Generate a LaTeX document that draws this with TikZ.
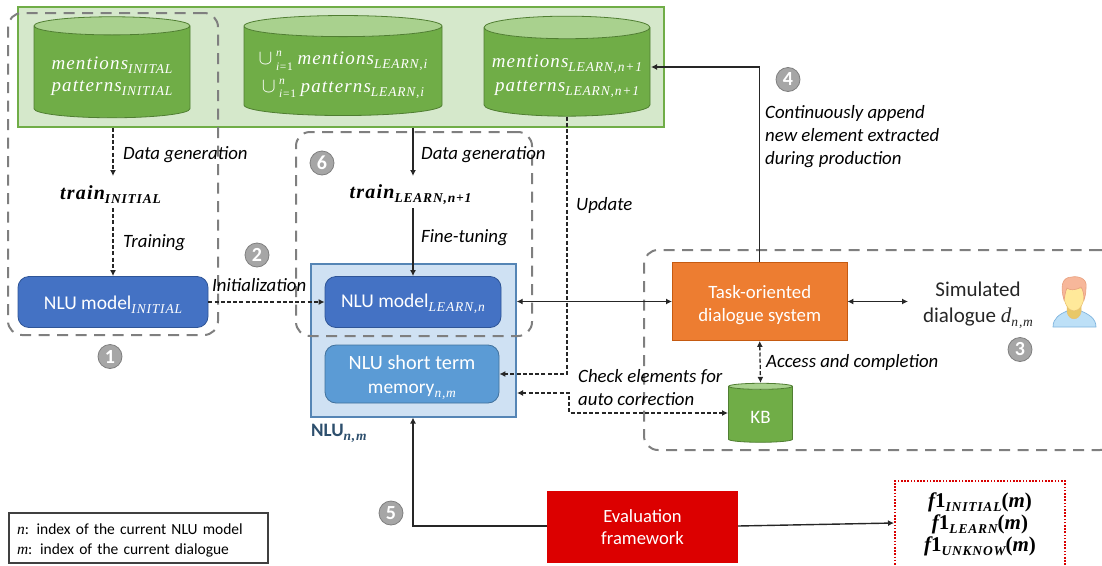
\documentclass[tikz,border=0pt]{standalone}
\usepackage{fontspec}
\setmainfont{Carlito}
\newfontfamily\mathf{Liberation Serif}[LetterSpace=6]
\usetikzlibrary{shapes.geometric,arrows.meta,calc}
\newcommand{\fs}[1]{\fontsize{#1}{#1}\selectfont}
\newcommand{\mi}[1]{{\mathf\itshape #1}}
\newcommand{\mb}[1]{{\mathf\bfseries\itshape #1}}
\newcommand{\dn}[1]{\raisebox{-4pt}{\fs{13.5}\mathf\itshape #1}}
\newcommand{\dnb}[1]{\raisebox{-4pt}{\fs{13.5}\mathf\bfseries\itshape #1}}
\newcommand{\unionof}{{\fs{21}$\cup$}\makebox[25pt][l]{\rlap{\raisebox{8pt}{\fs{11.5}\mathf\itshape\ n}}\raisebox{-5.5pt}{\fs{11.5}\mathf\ \textit{i}=1}}}
\definecolor{greenpanel}{HTML}{D5E8CB}
\definecolor{greenedge}{HTML}{70AD47}
\definecolor{cylbody}{HTML}{70AD47}
\definecolor{cyltop}{HTML}{A9D18E}
\definecolor{cyledge}{HTML}{507E32}
\definecolor{blue1}{HTML}{4472C4}
\definecolor{blue1e}{HTML}{2F5597}
\definecolor{blue2}{HTML}{5B9BD5}
\definecolor{blue2e}{HTML}{41719C}
\definecolor{panelblue}{HTML}{CFE1F3}
\definecolor{paneledge}{HTML}{5585B5}
\definecolor{orangebox}{HTML}{ED7D31}
\definecolor{orangee}{HTML}{C55A11}
\definecolor{redbox}{HTML}{DC0000}
\definecolor{dashgray}{HTML}{7F7F7F}
\definecolor{inkdark}{HTML}{262626}
\definecolor{numgray}{HTML}{A6A6A6}
\definecolor{hair}{HTML}{F7B79A}
\definecolor{hairedge}{HTML}{E8A07E}
\definecolor{face}{HTML}{FFE99A}
\definecolor{faceedge}{HTML}{E8C070}
\definecolor{neck}{HTML}{E8C868}
\definecolor{shirt}{HTML}{BDE0F7}
\definecolor{shirtedge}{HTML}{7FB4DE}
\tikzset{
  x=1pt,y=-1pt,
  cyl/.style={cylinder,shape border rotate=90,cylinder uses custom fill,cylinder body fill=cylbody,
    cylinder end fill=cyltop,draw=cyledge,line width=0.8pt,text=white,inner sep=0pt,align=center,
    minimum width=#1},
  region/.style={draw=dashgray,line width=2pt,dash pattern=on 11pt off 7.5pt,rounded corners=14pt,inner sep=0pt},
  roundbox/.style={rounded corners=11pt,inner sep=0pt,text=white,align=center,line width=0.8pt},
  square/.style={inner sep=0pt,align=center},
  label/.style={inner sep=0pt,anchor=west,font=\fs{18.8}\itshape,text=black,align=left},
  num/.style={circle,fill=numgray,draw=dashgray,line width=0.8pt,text=white,minimum size=24pt,inner sep=0pt,font=\fs{20}\bfseries},
  solidarrow/.style={draw=inkdark,line width=1.4pt,-{Latex[length=6pt,width=6pt]}},
  dasharrow/.style={draw=inkdark,line width=1.3pt,dash pattern=on 4pt off 2.2pt,-{Latex[length=6pt,width=6pt]}},
  bisolid/.style={draw=inkdark,line width=1.4pt,{Latex[length=6pt,width=6pt]}-{Latex[length=6pt,width=6pt]}},
  bidash/.style={draw=inkdark,line width=1.3pt,dash pattern=on 4pt off 2.2pt,{Latex[length=6pt,width=6pt]}-{Latex[length=6pt,width=6pt]}},
}
\begin{document}
\begin{tikzpicture}
\useasboundingbox (0,0) rectangle (1102,565);
\clip (0,0) rectangle (1102,565);
% top store panel
\node[square,draw=greenedge,fill=greenpanel,line width=1.5pt,minimum width=646pt,minimum height=120pt] (store) at (341,67) {};
\node[cyl=156pt,minimum height=101pt,aspect=0.15] (cylA) at (112,72) {\fs{19}\rule{0pt}{21pt}\mi{mentions}\dn{INITAL}\\[7pt]\fs{19}\mi{patterns}\dn{INITIAL}};
\node[cyl=198pt,minimum height=100pt,aspect=0.125] (cylB) at (343,71) {\fs{19}\rule{0pt}{21pt}\unionof\mi{mentions}\dn{LEARN,i}\\[7pt]\fs{19}\unionof\mi{patterns}\dn{LEARN,i}};
\node[cyl=166pt,minimum height=100pt,aspect=0.15] (cylC) at (567,72) {\fs{19}\rule{0pt}{21pt}\mi{mentions}\dn{LEARN,n+1}\\[7pt]\fs{19}\mi{patterns}\dn{LEARN,n+1}};
% NLU group
\node[square,draw=paneledge,fill=panelblue,line width=1.3pt,minimum width=205pt,minimum height=153pt] (nlu) at (413.5,340.5) {};
\node[roundbox,draw=blue1e,fill=blue1,minimum width=190pt,minimum height=51pt,font=\fs{19.5}] (modelinit) at (113,302) {\rule{0pt}{18pt}NLU model\dn{INITIAL}};
\node[roundbox,draw=blue1e,fill=blue1,minimum width=176pt,minimum height=51pt,font=\fs{19.5}] (modellearn) at (413,302) {\rule{0pt}{18pt}NLU model\dn{LEARN,n}};
\node[roundbox,draw=blue2e,fill=blue2,minimum width=174pt,minimum height=58pt,font=\fs{20.3}] (memory) at (412,374) {\rule{0pt}{21pt}NLU short term\\[3pt]\fs{19.4}memory\dn{n,m}};
% system
\node[square,draw=orangee,fill=orangebox,text=white,line width=0.8pt,minimum width=174.6pt,minimum height=78pt,font=\fs{18.8}] (task) at (759.7,301.5) {\rule{0pt}{20pt}Task-oriented\\[4pt]dialogue system};
\node[cyl=64pt,minimum height=59pt,aspect=0.3,font=\fs{19}] (kb) at (760.5,414.5) {\rule{0pt}{18pt}KB};
\node[inner sep=0pt,align=center,font=\fs{21},text=black!85] (sim) at (978,305) {Simulated\\[5pt]dialogue \mi{d}\dn{n,m}};
\node[square,draw=none,fill=redbox,text=white,minimum width=191pt,minimum height=72pt,font=\fs{18.6}] (eval) at (642.5,527) {Evaluation\\[4pt]framework};
\node[square,draw=red!85!black,line width=1.6pt,dash pattern=on 1.6pt off 1.6pt,minimum width=170pt,minimum height=90pt] (scores) at (980,526) {};
\node[inner sep=0pt,align=center] (scorestext) at (980,524.5) {\fs{21}\mb{f}{\mathf\bfseries 1}\dnb{INITIAL}{\mathf\bfseries(}\mb{m}{\mathf\bfseries)}\\[2pt]\fs{21}\mb{f}{\mathf\bfseries 1}\dnb{LEARN}{\mathf\bfseries(}\mb{m}{\mathf\bfseries)}\\[2pt]\fs{21}\mb{f}{\mathf\bfseries 1}\dnb{UNKNOW}{\mathf\bfseries(}\mb{m}{\mathf\bfseries)}};
\node[square,draw=black!75,line width=1.2pt,minimum width=259pt,minimum height=50pt,text width=243pt,align=left,font=\fs{15.5}] (legend) at (138.5,538) {\rule{0pt}{15.5pt}\mi{n}: index of the current NLU model\\[4.5pt]\mi{m}: index of the current dialogue};
% training nodes
\node[inner sep=0pt,font=\fs{20}] (trainA) at (110.5,195) {\mb{train}\dnb{INITIAL}};
\node[inner sep=0pt,font=\fs{20}] (trainB) at (410.5,195) {\mb{train}\dnb{LEARN,n+1}};
% dashed regions
\node[region,minimum width=210pt,minimum height=322pt] (regA) at (113,174) {};
\node[region,minimum width=236pt,minimum height=204pt] (regB) at (414,234) {};
\node[region,minimum width=470pt,minimum height=200pt] (regC) at (879,350) {};
% connector helper points
\coordinate (updcorner) at (cylC.south |- memory.east);
\coordinate (chkA) at (569,393);
\coordinate (chkB) at (569,413);
\coordinate (appcorner) at (task.north |- 0,67);
\coordinate (cylCr) at (651,67);
\coordinate (evalcorner) at (413,526);
\coordinate (nlub) at (413,417.5);
\coordinate (nluchk) at (517,393);
\coordinate (nluright) at (nlu.east |- task.west);
\coordinate (evalL) at (547,526);
\coordinate (evalR) at (738,526);
\coordinate (scoreL) at (894,523);
\coordinate (kbleft) at (728,413);
\coordinate (simL) at (908,301.5);
\coordinate (trainAin) at (113,176);
\coordinate (trainAout) at (113,208);
\coordinate (trainBin) at (413,176);
\coordinate (trainBout) at (413,208);
% connectors
\draw[dasharrow] (store.south -| trainAin) -- (trainAin);
\draw[dasharrow] (trainAout) -- (trainAout |- modelinit.north);
\draw[solidarrow] (store.south -| trainBin) -- (trainBin);
\draw[solidarrow] (trainBout) -- (trainBout |- modellearn.north);
\draw[dasharrow] (modelinit.east) -- (modellearn.west);
\draw[dasharrow] (cylC.south) -- (updcorner) -- (memory.east);
\draw[bidash] (nluchk) -- (chkA) -- (chkB) -- (kbleft);
\draw[bisolid] (nluright) -- (task.west);
\draw[solidarrow] (task.north) -- (appcorner) -- (cylCr);
\draw[bisolid] (task.east) -- (simL);
\draw[bidash] (task.south) -- (kb.north);
\draw[solidarrow] (evalL) -- (evalcorner) -- (nlub);
\draw[solidarrow] (evalR) -- (scoreL);
% labels
\node[label] (l1) at (123,154.5) {Data generation};
\node[label] (l2) at (421,155) {Data generation};
\node[label] (l3) at (123,243) {Training};
\node[label] (l4) at (421,238) {Fine-tuning};
\node[label] (l5) at (212,285.5) {Initialization};
\node[label] (l6) at (576,205) {Update};
\node[label] (l7) at (765,137) {Continuously append\\[4.2pt]new element extracted\\[4.2pt]during production};
\node[label] (l8) at (766,362) {Access and completion};
\node[label] (l9) at (578,388) {Check elements for\\[4.2pt]auto correction};
\node[inner sep=0pt,anchor=west,font=\fs{19},text=blue2e!70!black] (nlutitle) at (311,433) {\textbf{NLU}\dnb{n,m}};
% numbered badges
\node[num] (n1) at (110,356.5) {1};
\node[num] (n2) at (257,255) {2};
\node[num] (n3) at (1020,349.5) {3};
\node[num] (n4) at (788,79.5) {4};
\node[num] (n5) at (391,513) {5};
\node[num] (n6) at (322,163) {6};
% person icon
\path[fill=shirt,draw=shirtedge,line width=0.7pt] (1053,327) .. controls (1053,318) and (1060,314) .. (1067,311) -- (1081,311) .. controls (1088,314) and (1096,318) .. (1096,327) -- cycle;
\path[fill=neck,draw=faceedge,line width=0.5pt] (1067,304) -- (1067,312) .. controls (1069,321) and (1079,321) .. (1081,312) -- (1081,304) -- cycle;
\path[fill=face,draw=faceedge,line width=0.5pt] (1063,288) .. controls (1063,303) and (1068,311) .. (1074,311) .. controls (1080,311) and (1085,303) .. (1085,288) -- cycle;
\path[fill=hair,draw=hairedge,line width=0.6pt] (1064,300) .. controls (1060,286) and (1062,277) .. (1072,277) .. controls (1076,276) and (1088,277) .. (1086,288) .. controls (1086,293) and (1085,297) .. (1084,300) .. controls (1084,294) and (1083,290) .. (1081,287) .. controls (1075,291) and (1069,290) .. (1067,288) .. controls (1065,292) and (1065,296) .. (1064,300) -- cycle;
\end{tikzpicture}
\end{document}
